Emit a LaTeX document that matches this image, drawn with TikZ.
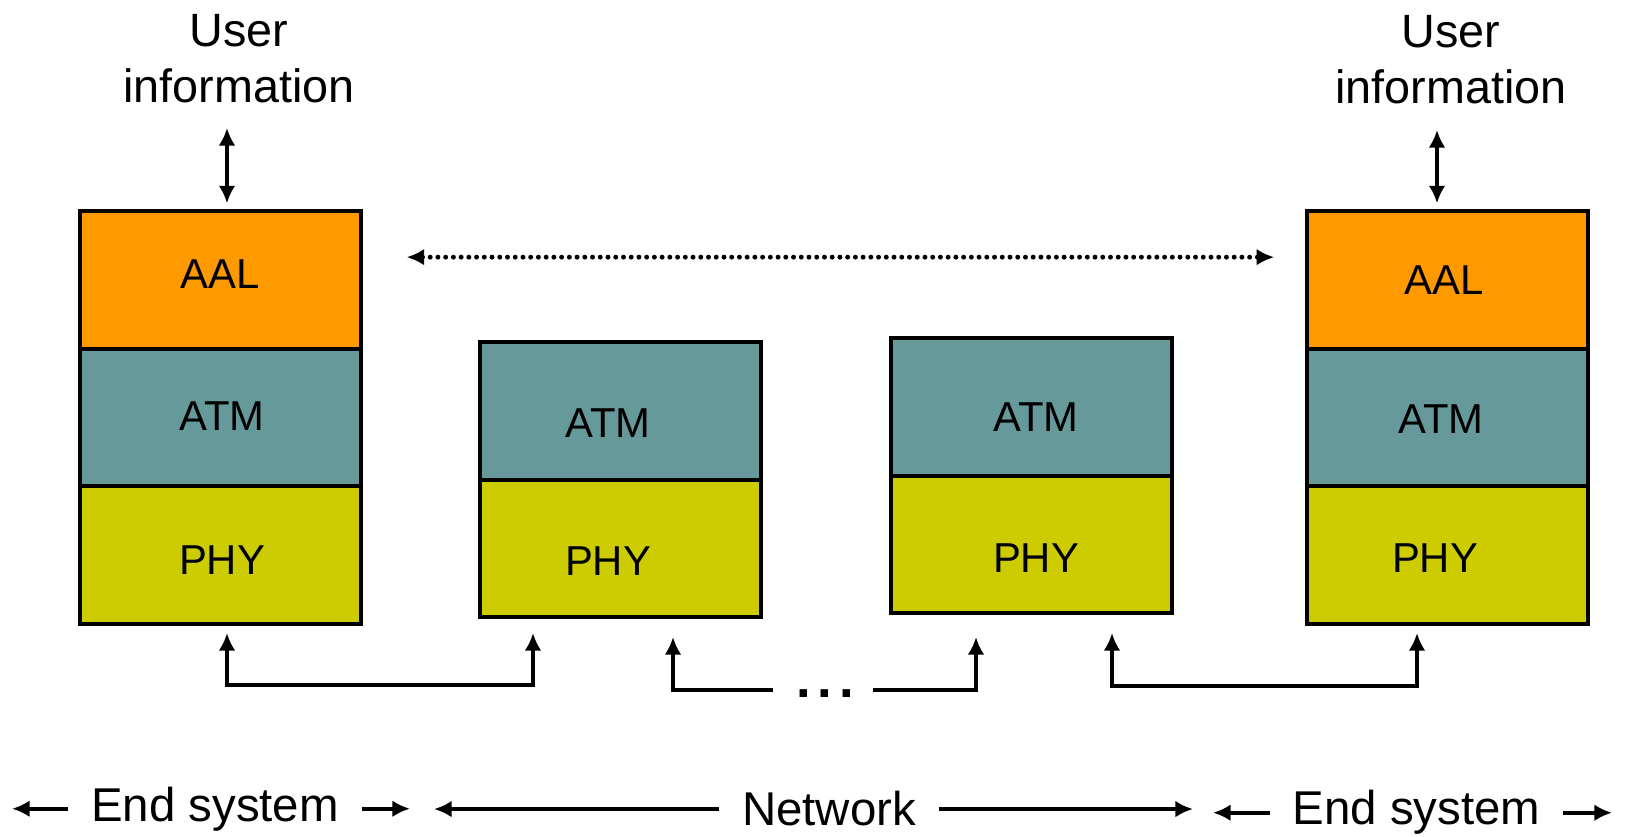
\documentclass[tikz,border=0pt]{standalone}
\usepackage{fontspec}
\setmainfont{Liberation Sans}
\usetikzlibrary{positioning,arrows.meta}

\definecolor{aalorange}{RGB}{255,153,0}
\definecolor{atmteal}{RGB}{102,153,153}
\definecolor{phyyellow}{RGB}{204,204,0}

\tikzset{
  layer/.style={draw,line width=2.4pt,minimum width=5.62cm,minimum height=2.75cm,
    outer sep=0pt,inner sep=0pt},
  aal/.style={layer,fill=aalorange},
  atm/.style={layer,fill=atmteal},
  phy/.style={layer,fill=phyyellow},
  layertext/.style={inner sep=0pt,font=\fontsize{23.8}{28}\selectfont},
  usertext/.style={align=center,inner sep=0pt,font=\fontsize{26.6}{31.7}\selectfont},
  bottomtext/.style={anchor=base,inner xsep=0.42cm,inner ysep=0pt,font=\fontsize{27}{32}\selectfont},
  peerline/.style={line width=2.8pt,line cap=round,dash pattern=on 0pt off 4.4pt}
}

\begin{document}
\begin{tikzpicture}[x=0.02cm,y=-0.02cm,line width=2.3pt,>={Latex[length=10pt,width=9.5pt]}]
\useasboundingbox (0,0) rectangle (1627,837);

% end system, left
\node[aal] (aalL) at (220.5,280) {};
\node[atm,below=0pt of aalL] (atmL) {};
\node[phy,below=0pt of atmL] (phyL) {};
\node[layertext] (aalLt) at (220,274) {AAL};
\node[layertext] (atmLt) at (222,416) {ATM};
\node[layertext] (phyLt) at (222,560) {PHY};

% network nodes
\node[atm] (atmNa) at (620.5,411) {};
\node[phy,below=0pt of atmNa] (phyNa) {};
\node[layertext] (atmNat) at (608,423) {ATM};
\node[layertext] (phyNat) at (608,561) {PHY};
\node[atm] (atmNb) at (1031.5,407) {};
\node[phy,below=0pt of atmNb] (phyNb) {};
\node[layertext] (atmNbt) at (1036,417) {ATM};
\node[layertext] (phyNbt) at (1036,558) {PHY};

% end system, right
\node[aal] (aalR) at (1447.5,280) {};
\node[atm,below=0pt of aalR] (atmR) {};
\node[phy,below=0pt of atmR] (phyR) {};
\node[layertext] (aalRt) at (1444,280) {AAL};
\node[layertext] (atmRt) at (1441,419) {ATM};
\node[layertext] (phyRt) at (1435,558) {PHY};

% user information
\node[usertext] (userL) at (239,59) {User\\information};
\node[usertext] (userR) at (1451,60) {User\\information};
\coordinate (infoL) at (227,128);
\coordinate (infoR) at (1437,130);
\draw[<->] (infoL) -- (infoL |- aalL.north) [shorten >=4.5pt];
\draw[<->] (infoR) -- (infoR |- aalR.north) [shorten >=4.5pt];

% AAL peer to peer
\draw[<->,peerline,shorten <=26pt,shorten >=18.7pt] ([yshift=13pt]aalL.east) -- ([yshift=13pt]aalR.west);

% physical links
\coordinate (tipA) at (227,633);
\coordinate (tipB) at (533,633);
\coordinate (tipC) at (673,637);
\coordinate (tipD) at (976,637);
\coordinate (tipE) at (1112,633);
\coordinate (tipF) at (1417,633);
\coordinate (gapL) at (773,690);
\coordinate (gapR) at (873,690);
\draw[<->] (tipA) -- ++(0,52) -| (tipB);
\draw[->] (gapL) -| (tipC);
\draw[->] (gapR) -| (tipD);
\draw[<->] (tipE) -- ++(0,53) -| (tipF);
\node[anchor=base,inner sep=0pt,font=\fontsize{30}{34}\selectfont\bfseries] (dots) at (825,698) {.\kern4pt.\kern4pt.};

% domains
\node[bottomtext] (endL) at (215,821) {End system};
\node[bottomtext] (net) at (829,826) {Network};
\node[bottomtext] (endR) at (1416.5,825) {End system};
\coordinate (edgeA) at (12,0);
\coordinate (edgeB) at (410,0);
\coordinate (edgeC) at (434,0);
\coordinate (edgeD) at (1193,0);
\coordinate (edgeE) at (1213,0);
\coordinate (edgeF) at (1612,0);
\draw[->] (endL.west) -- (endL.west -| edgeA);
\draw[->] (endL.east) -- (endL.east -| edgeB);
\draw[->] (net.west) -- (net.west -| edgeC);
\draw[->] (net.east) -- (net.east -| edgeD);
\draw[->] (endR.west) -- (endR.west -| edgeE);
\draw[->] (endR.east) -- (endR.east -| edgeF);
\end{tikzpicture}
\end{document}
